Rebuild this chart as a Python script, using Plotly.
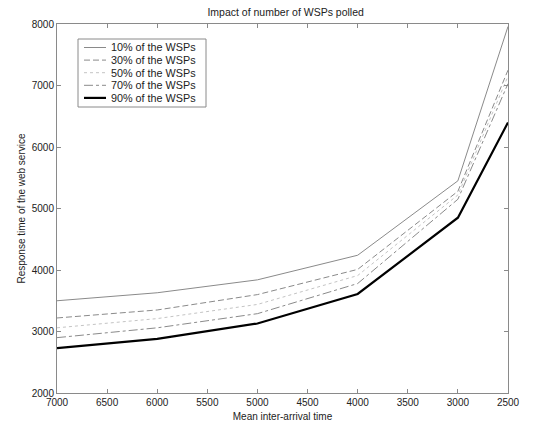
import plotly.graph_objects as go

# Mean inter-arrival time (x) and response time per polling share
arrival = [7000, 6000, 5000, 4000, 3000, 2500]
series_names = ["10% of the WSPs", "30% of the WSPs", "50% of the WSPs",
                "70% of the WSPs", "90% of the WSPs"]
resp_10 = [3500, 3630, 3840, 4240, 5450, 7960]
resp_30 = [3220, 3350, 3600, 4010, 5280, 7250]
resp_50 = [3060, 3210, 3440, 3910, 5220, 7150]
resp_70 = [2900, 3060, 3290, 3780, 5150, 7030]
resp_90 = [2730, 2880, 3130, 3610, 4850, 6400]

x_ticks = [7000, 6500, 6000, 5500, 5000, 4500, 4000, 3500, 3000, 2500]
y_ticks = [2000, 3000, 4000, 5000, 6000, 7000, 8000]

styles = [
    dict(color="#8a8a8a", width=1, dash="solid"),
    dict(color="#8a8a8a", width=1, dash="6px,3px"),
    dict(color="#c4c4c4", width=1, dash="dot"),
    dict(color="#8a8a8a", width=1, dash="dashdot"),
    dict(color="#000000", width=2.2, dash="solid"),
]

W, H = 542, 423
ML, MR, MT, MB = 57, 34, 24, 30
PW, PH = W - ML - MR, H - MT - MB


def px_x(p):
    return (p - ML) / PW


def px_y(p):
    return (H - MB - p) / PH


fig = go.Figure()
for name, vals, st in zip(series_names, [resp_10, resp_30, resp_50, resp_70, resp_90], styles):
    fig.add_trace(go.Scatter(x=arrival, y=vals, mode="lines", name=name, line=st,
                             showlegend=False))

# Compact boxed legend in the upper-left corner of the plot area
shapes = [dict(type="rect", xref="paper", yref="paper",
               x0=px_x(78), x1=px_x(206), y0=px_y(107), y1=px_y(39),
               line=dict(color="#8a8a8a", width=1), fillcolor="white", layer="above")]
annotations = []
for i, (name, st) in enumerate(zip(series_names, styles)):
    row_y = 47.5 + 12.6 * i
    shapes.append(dict(type="line", xref="paper", yref="paper",
                       x0=px_x(84), x1=px_x(106), y0=px_y(row_y), y1=px_y(row_y),
                       line=st, layer="above"))
    annotations.append(dict(text=name, xref="paper", yref="paper",
                            x=px_x(109), y=px_y(row_y), xanchor="left", yanchor="middle",
                            showarrow=False, font=dict(size=10.8, color="#222")))

axis_common = dict(
    showgrid=False, zeroline=False, showline=True, linecolor="#8a8a8a", linewidth=1,
    mirror="ticks", ticks="inside", ticklen=4, tickcolor="#8a8a8a",
    tickfont=dict(size=10, color="#222"), automargin=False,
)

fig.update_layout(
    width=W, height=H,
    margin=dict(l=ML, r=MR, t=MT, b=MB, autoexpand=False),
    paper_bgcolor="white", plot_bgcolor="white",
    font=dict(family="Liberation Sans, Arial, sans-serif", size=10, color="#222"),
    title=dict(text="Impact of number of WSPs polled", x=0.527, xanchor="center",
               y=0.97, yanchor="middle", font=dict(size=10.5)),
    xaxis=dict(range=[7000, 2500], tickvals=x_ticks,
               title=dict(text="Mean inter-arrival time", standoff=5, font=dict(size=10)),
               **axis_common),
    yaxis=dict(range=[2000, 8000], tickvals=y_ticks,
               title=dict(text="Response time of the web service", standoff=4, font=dict(size=10)),
               **axis_common),
    shapes=shapes,
    annotations=annotations,
    showlegend=False,
)

fig.write_html("out.html")
